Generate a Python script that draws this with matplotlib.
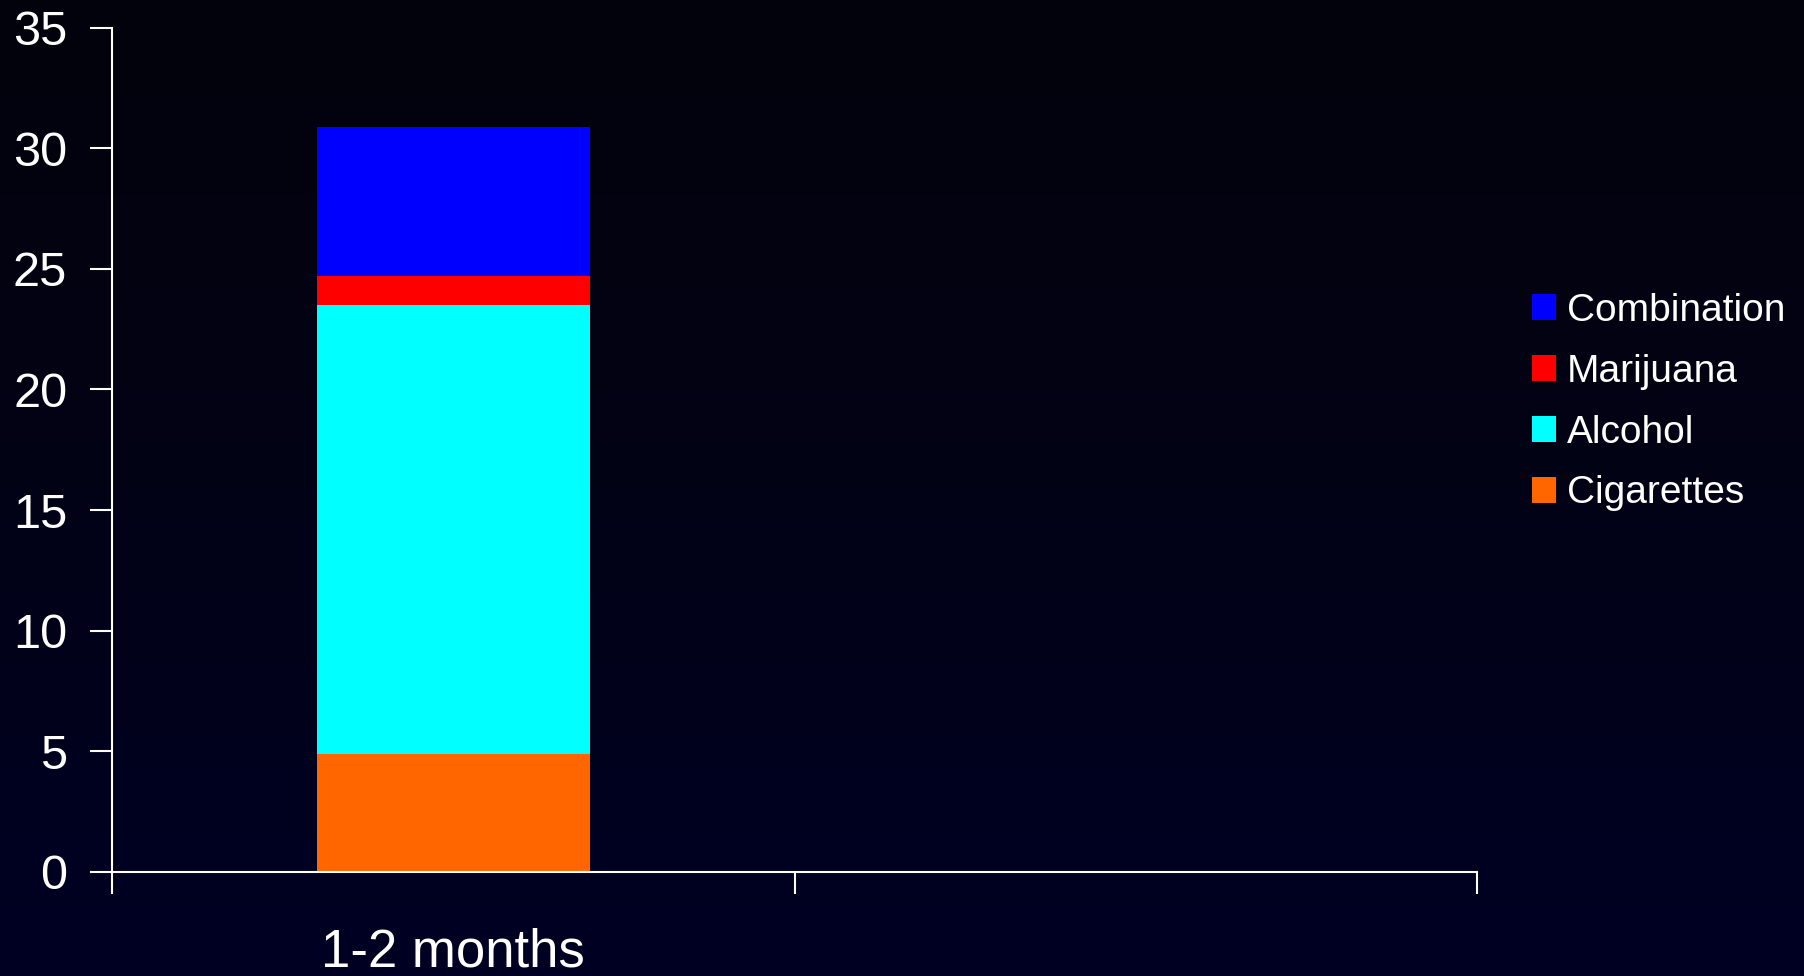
import matplotlib

matplotlib.use("Agg")
import matplotlib.pyplot as plt
import numpy as np
from matplotlib.colors import LinearSegmentedColormap

# Data (percent)
categories = ["1-2 months", ""]
series_names = ["Cigarettes", "Alcohol", "Marijuana", "Combination"]
cigarettes = [4.9, 0]
alcohol = [18.6, 0]
marijuana = [1.2, 0]
combination = [6.2, 0]
series_values = [cigarettes, alcohol, marijuana, combination]
series_colors = ["#ff6600", "#00ffff", "#ff0000", "#0000ff"]
y_ticks = [0, 5, 10, 15, 20, 25, 30, 35]

INK = "white"
FONT = ["Liberation Sans", "DejaVu Sans"]

fig = plt.figure(figsize=(18.04, 9.76), dpi=100)

# Background: subtle dark navy vertical gradient
bg = fig.add_axes([0, 0, 1, 1], zorder=-10)
grad_cmap = LinearSegmentedColormap.from_list("bg", ["#03020c", "#020316", "#000024"])
bg.imshow(np.linspace(0, 1, 256).reshape(-1, 1), aspect="auto", cmap=grad_cmap,
          extent=(0, 1, 0, 1))
bg.set_axis_off()

ax = fig.add_axes([0.0619, 0.1066, 0.7571, 0.8651])
ax.set_facecolor("none")

x = np.arange(len(categories))
bottom = np.zeros(len(categories))
handles = []
for name, vals, color in zip(series_names, series_values, series_colors):
    h = ax.bar(x, vals, width=0.4, bottom=bottom, color=color, label=name, linewidth=0)
    handles.append(h)
    bottom += np.array(vals)

ax.set_xlim(-0.5, len(categories) - 0.5)
ax.set_ylim(0, 35)
ax.set_yticks(y_ticks)
ax.set_yticklabels([str(t) for t in y_ticks], fontsize=35, color=INK, family=FONT)

# Category boundaries carry the tick marks; labels sit at the centers
ax.set_xticks(np.arange(len(categories) + 1) - 0.5)
ax.set_xticklabels([])
ax.set_xticks(x, minor=True)
ax.set_xticklabels(categories, minor=True, fontsize=38, color=INK, family=FONT)
ax.tick_params(axis="x", which="minor", length=0, pad=40)
ax.tick_params(axis="x", which="major", length=16, width=1.5, color=INK, direction="out")
ax.tick_params(axis="y", length=16, width=1.5, color=INK, direction="out", pad=16)

for spine in ("top", "right"):
    ax.spines[spine].set_visible(False)
for spine in ("left", "bottom"):
    ax.spines[spine].set_color(INK)
    ax.spines[spine].set_linewidth(1.5)

leg = fig.legend(
    handles[::-1],
    series_names[::-1],
    loc="center left",
    bbox_to_anchor=(0.849, 0.588),
    frameon=False,
    borderpad=0,
    borderaxespad=0,
    handlelength=0.64,
    handleheight=0.64,
    handletextpad=0.27,
    labelspacing=0.64,
    prop={"family": FONT, "size": 28},
)
for text in leg.get_texts():
    text.set_color(INK)

fig.savefig("out.png", dpi=100)
